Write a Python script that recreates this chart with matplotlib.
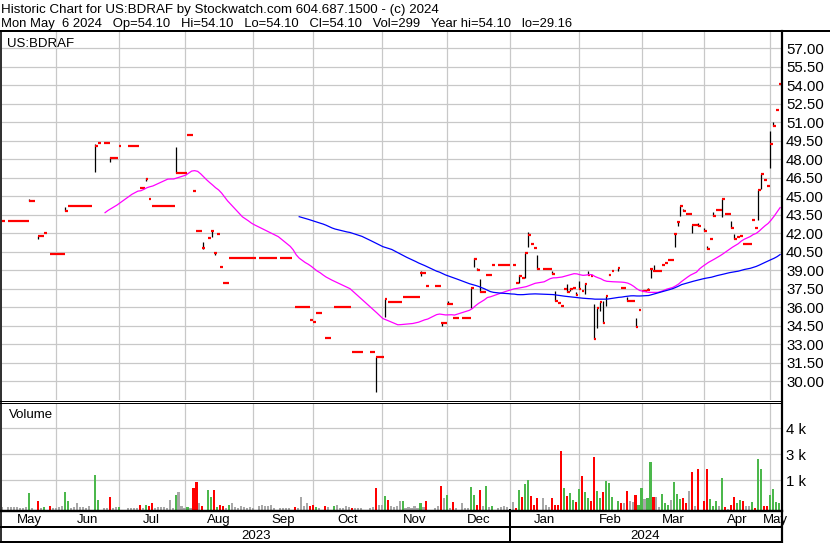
import numpy as np
import pandas as pd
import matplotlib
matplotlib.use("Agg")
import matplotlib.pyplot as plt
from matplotlib.lines import Line2D
from matplotlib.transforms import blended_transform_factory

plt.rcParams['font.family'] = ['Liberation Sans', 'DejaVu Sans']

W, H = 830, 543
nan = float('nan')

# one slot per weekday, May 8 2023 .. May 6 2024
days = pd.bdate_range("2023-05-08", "2024-05-06")

# daily close (nan = no record that day)
close = [
    43.0, nan, 43.0, 43.0, 43.0, 43.0, 43.0, 43.0, 43.0, 44.6,
    44.6, nan, 41.8, 41.8, 42.0, nan, 40.3, 40.3, 40.3, 40.3,
    40.3, 43.8, 44.2, 44.2, 44.2, 44.2, 44.2, 44.2, 44.2, 44.2,
    nan, 49.1, 49.3, nan, 49.3, 49.3, 48.1, 48.1, 48.1, 49.1,
    nan, nan, 49.1, 49.1, 49.1, 49.1, 45.7, 45.7, 46.4, 44.8,
    44.2, 44.2, 44.2, 44.2, 44.2, 44.2, 44.2, 44.2, 46.9, 46.9,
    46.9, 46.9, 50.0, 50.0, 45.4, 42.2, 42.2, 40.8, nan, 41.6,
    42.2, 40.4, 41.9, 39.3, 38.0, 38.0, 40.0, 40.0, 40.0, 40.0,
    40.0, 40.0, 40.0, 40.0, 40.0, nan, 40.0, 40.0, 40.0, 40.0,
    40.0, 40.0, nan, 40.0, 40.0, 40.0, 40.0, nan, 36.0, 36.0,
    36.0, 36.0, 36.0, 35.0, 34.8, 35.5, 35.5, nan, 33.5, 33.5,
    nan, 36.0, 36.0, 36.0, 36.0, 36.0, 36.0, 32.4, 32.4, 32.4,
    32.4, nan, nan, 32.4, 32.4, 32.0, 32.0, 32.0, 36.7, 36.4,
    36.4, 36.4, 36.4, 36.4, 36.8, 36.8, 36.8, 36.8, 36.8, 36.8,
    38.8, 38.8, 37.7, nan, nan, 37.7, 37.7, 34.7, 34.7, 36.3,
    36.3, 35.1, 35.1, nan, 35.1, 35.1, 35.1, 37.6, 39.9, 39.0,
    37.2, 37.2, 38.6, 38.6, 39.4, nan, 39.4, 39.4, 39.4, 39.4,
    nan, 39.4, 38.0, 38.5, 38.4, 40.4, 41.85, 41.1, 40.8, 39.1,
    nan, 39.1, 39.1, 39.1, 38.7, 36.5, 36.35, 36.1, 37.5, 37.2,
    37.5, 37.6, 37.0, 37.5, 37.3, 37.9, 38.6, 38.5, 33.4, 35.9,
    36.4, 34.7, 36.9, 38.6, 38.9, nan, 39.2, 37.6, 37.6, 36.5,
    36.5, 36.5, 34.4, 35.8, 37.3, 37.3, 37.4, 39.1, 38.9, 38.9,
    38.9, 39.4, 39.6, 39.8, 39.8, 41.9, 42.9, 44.2, 43.8, 43.6,
    43.6, 42.7, 42.7, 42.6, nan, 42.2, 40.7, 41.5, 43.4, 43.9,
    43.9, 44.8, 43.6, 43.6, 42.4, 41.5, 41.7, 41.8, 41.1, 41.1,
    41.1, 43.1, 42.4, 45.5, 46.8, 46.3, 45.8, 49.2, 50.7, 52.0,
    54.1,
]

volume = [
    140, 0, 100, 110, 120, 120, 90, 90, 100, 770,
    50, 0, 385, 60, 144, 0, 192, 60, 60, 100,
    192, 818, 385, 60, 100, 290, 100, 100, 50, 192,
    0, 1635, 433, 0, 50, 50, 577, 50, 100, 144,
    0, 0, 60, 60, 60, 60, 240, 60, 240, 192,
    290, 60, 100, 100, 100, 60, 480, 60, 673, 818,
    192, 50, 144, 60, 1010, 1298, 290, 192, 0, 914,
    577, 914, 144, 240, 192, 60, 240, 290, 100, 60,
    150, 100, 60, 100, 60, 0, 192, 240, 150, 190,
    240, 50, 0, 50, 50, 50, 50, 0, 144, 50,
    577, 192, 290, 192, 240, 144, 50, 0, 192, 144,
    0, 192, 240, 50, 50, 192, 100, 96, 50, 50,
    50, 0, 0, 50, 144, 1010, 240, 240, 625, 433,
    192, 144, 192, 385, 385, 96, 144, 96, 192, 50,
    290, 144, 385, 0, 0, 50, 192, 1106, 529, 673,
    50, 337, 96, 0, 290, 50, 50, 1058, 673, 240,
    914, 192, 1106, 144, 192, 0, 50, 144, 192, 144,
    0, 337, 96, 914, 577, 1202, 1395, 625, 240, 529,
    0, 529, 240, 144, 529, 240, 240, 2790, 1010, 625,
    770, 433, 337, 962, 1587, 818, 529, 385, 2500, 866,
    529, 818, 1347, 1250, 577, 0, 385, 289, 289, 866,
    385, 337, 673, 240, 1010, 481, 529, 2260, 577, 577,
    144, 721, 289, 240, 433, 1298, 721, 481, 529, 289,
    866, 1780, 192, 1924, 0, 385, 1924, 481, 192, 385,
    192, 1491, 144, 48, 240, 577, 289, 433, 385, 192,
    192, 337, 96, 2405, 1924, 192, 192, 673, 962, 337,
    299,
]

# days with a visible high-low range
bar_idx = [9, 12, 21, 31, 36, 48, 58, 67, 70, 71, 125, 128, 140, 147, 149,
           157, 158, 159, 160, 173, 175, 176, 179, 184, 185, 189, 190, 192,
           193, 195, 196, 198, 199, 200, 201, 202, 203, 206, 209, 212, 216,
           217, 218, 225, 226, 227, 228, 231, 233, 235, 236, 238, 241, 244,
           245, 253, 254, 257, 258]
bar_hi = [44.8, 41.8, 44.1, 49.2, 48.2, 46.5, 49.0, 41.3, 42.3, 40.5, 32.0,
          36.7, 38.9, 34.8, 36.5, 37.6, 40.0, 39.2, 38.3, 38.6, 40.4, 42.1,
          40.2, 38.9, 37.3, 37.9, 37.55, 37.2, 38.1, 38.0, 38.9, 36.3, 35.9,
          36.4, 36.5, 36.9, 38.7, 39.2, 36.8, 35.1, 37.6, 39.1, 39.45, 41.9,
          42.9, 44.2, 44.0, 42.7, 42.85, 42.4, 41.0, 43.7, 44.8, 43.0, 41.95,
          45.5, 46.8, 50.3, 51.0]
bar_lo = [44.6, 41.55, 43.8, 47.0, 47.8, 46.2, 46.9, 40.7, 41.7, 40.2, 29.16,
          35.2, 38.5, 34.5, 36.3, 35.9, 39.3, 39.0, 37.2, 38.0, 38.4, 40.85,
          39.1, 38.7, 36.5, 37.2, 37.35, 37.0, 37.5, 37.1, 38.6, 33.4, 34.3,
          35.7, 34.7, 36.1, 38.6, 38.9, 36.5, 34.4, 37.4, 38.4, 38.9, 40.9,
          42.6, 43.4, 43.8, 42.0, 42.6, 42.2, 40.7, 43.4, 43.3, 42.4, 41.5,
          43.1, 45.6, 47.3, 50.7]

price_ticks = np.arange(30, 57.01, 1.5)
vol_ticks = [1400, 2650, 3900]
vol_labels = ["1 k", "3 k", "4 k"]
MA_FAST, MA_SLOW = 35, 100

header1 = "Historic Chart for US:BDRAF by Stockwatch.com 604.687.1500 - (c) 2024"
header2 = ("Mon May  6 2024   Op=54.10   Hi=54.10   Lo=54.10   Cl=54.10   "
           "Vol=299   Year hi=54.10   lo=29.16")

GRID = '#c8c8c8'
RED = '#ff0000'
GREEN = '#4cb84c'
GRAY = '#a8a8a8'

k = np.arange(len(days))
c = pd.Series(close, dtype=float)
filled = c.ffill()
ma_fast = filled.rolling(MA_FAST).mean()
ma_slow = filled.rolling(MA_SLOW).mean()

# volume colour: up green, down red, unchanged grey
prev = filled.shift(1)
vcol = []
for i in k:
    if np.isnan(c[i]) or np.isnan(prev[i]) or c[i] == prev[i]:
        vcol.append(GRAY)
    elif c[i] > prev[i]:
        vcol.append(GREEN)
    else:
        vcol.append(RED)

# runs of consecutive days at the same close -> one dash each
runs = []
i = 0
while i < len(c):
    if np.isnan(c[i]):
        i += 1
        continue
    j = i
    while j + 1 < len(c) and c[j + 1] == c[i]:
        j += 1
    runs.append((i, j, c[i]))
    i = j + 1


def fx(px):
    return px / W


def fy(py):
    return 1 - py / H


fig = plt.figure(figsize=(W / 100, H / 100), dpi=100)
fig.patch.set_facecolor('white')

left_px, right_px = 1.7, 780.5
ax = fig.add_axes([fx(left_px), fy(400), (right_px - left_px) / W, (400 - 32) / H])
axv = fig.add_axes([fx(left_px), fy(509.5), (right_px - left_px) / W, (509.5 - 403.5) / H])

xlo = (left_px - 2.3) / 2.987
xhi = (right_px - 2.3) / 2.987

# month grid at the last weekday on/before the 1st of each month
month_starts = pd.date_range("2023-06-01", "2024-05-01", freq="MS")
grid_k = [days.searchsorted(m, side='right') - 1 for m in month_starts]

for a in (ax, axv):
    a.set_xlim(xlo, xhi)
    for s in a.spines.values():
        s.set_visible(False)
    a.set_xticks([])
    for g in grid_k:
        a.axvline(g, color=GRID, lw=0.9, zorder=0)

# price panel
ax.set_ylim(28.48, 58.32)
for p in price_ticks:
    ax.axhline(p, color=GRID, lw=0.9, zorder=0)
ax.vlines(np.array(bar_idx) + 0.05, bar_lo, bar_hi, color='black', lw=0.9, zorder=2)
ax.hlines([r[2] for r in runs], [r[0] for r in runs], [r[1] + 0.9 for r in runs],
          color=RED, lw=1.6, zorder=3)
ax.plot(k + 0.4, ma_fast, color='#ff00ff', lw=0.9, zorder=4)
ax.plot(k + 0.4, ma_slow, color='#0000ff', lw=0.9, zorder=4)
ax.yaxis.tick_right()
ax.set_yticks(price_ticks)
ax.set_yticklabels([f"{p:.2f}" for p in price_ticks])
ax.tick_params(axis='y', length=0, pad=4.0, labelsize=10.8)

# volume panel
axv.set_ylim(0, 5090)
for v in vol_ticks:
    axv.axhline(v, color=GRID, lw=0.9, zorder=0)
axv.bar(k, volume, width=0.7, color=vcol, zorder=2)
axv.yaxis.tick_right()
axv.set_yticks(vol_ticks)
axv.set_yticklabels(vol_labels)
axv.tick_params(axis='y', length=0, pad=4.0, labelsize=10.8)

# texts
fs = 9.5
fig.text(fx(1), fy(13.3), header1, fontsize=9.6, va='baseline')
fig.text(fx(1), fy(26.7), header2, fontsize=9.4, va='baseline')
fig.text(fx(7.5), fy(46.7), "US:BDRAF", fontsize=fs, va='baseline')
fig.text(fx(9.3), fy(418.3), "Volume", fontsize=fs, va='baseline')

tr = blended_transform_factory(ax.transData, fig.transFigure)
edges = [xlo] + grid_k + [xhi]
names = ["May", "Jun", "Jul", "Aug", "Sep", "Oct", "Nov", "Dec",
         "Jan", "Feb", "Mar", "Apr", "May"]
for i, name in enumerate(names):
    fig.text((edges[i] + edges[i + 1]) / 2, fy(522.7), name, fontsize=fs,
             ha='center', va='baseline', transform=tr)
jan = days.searchsorted(pd.Timestamp("2024-01-01"))
fig.text((xlo + jan) / 2, fy(539.3), "2023", fontsize=fs, ha='center',
         va='baseline', transform=tr)
fig.text((jan + xhi) / 2, fy(539.3), "2024", fontsize=fs, ha='center',
         va='baseline', transform=tr)


# frame lines, in pixels
def hline(y, x0, x1, w):
    fig.add_artist(Line2D([fx(x0), fx(x1)], [fy(y), fy(y)], color='black',
                          lw=w * 0.72, transform=fig.transFigure))


def vline(x, y0, y1, w):
    fig.add_artist(Line2D([fx(x), fx(x)], [fy(y0), fy(y1)], color='black',
                          lw=w * 0.72, transform=fig.transFigure))


hline(31.2, 0, W, 2)
hline(400.5, 0, 781.5, 1)
hline(402.8, 0, 781.5, 1)
hline(510.6, 0, 781.5, 2.4)
hline(527.0, 0, 781.5, 2)
hline(541.8, 0, 781.5, 2)
vline(0.8, 31, 543, 1.6)
vline(781.5, 31, 542.8, 2.2)
jan_px = 2.3 + 2.987 * jan
vline(jan_px, 510, 542, 2)

fig.savefig("out.png", dpi=100)
